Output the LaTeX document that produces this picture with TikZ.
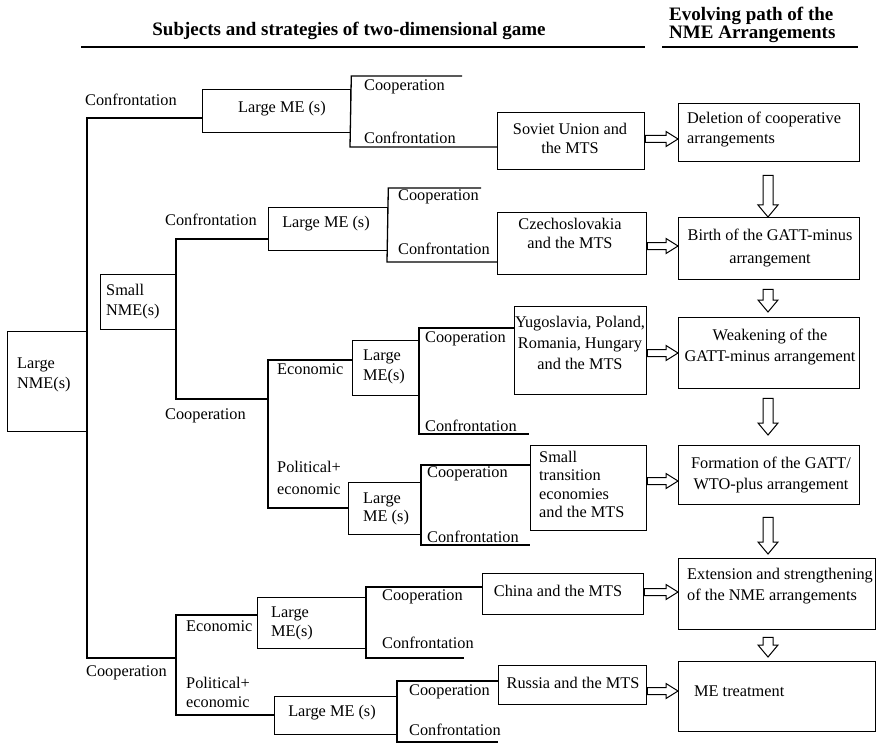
\documentclass[tikz,border=0pt]{standalone}
\usepackage{fontspec}
\setmainfont{Liberation Serif}
\usetikzlibrary{calc}

\tikzset{
  box/.style={draw, line width=1.3pt, inner sep=0pt, anchor=north west},
  tree/.style={line width=1.3pt},
  txt/.style={inner sep=0pt, font={\fontsize{16.3}{19.5}\selectfont}},
  lbl/.style={txt, anchor=west, align=left},
  hollow/.style={draw, line width=1pt, fill=white, line join=miter},
  head/.style={inner sep=0pt, font={\bfseries\fontsize{19}{16}\selectfont}},
  rule/.style={line width=1.8pt},
}

% hollow arrow from the east side of #1 to the west side of #2, at height #3
\newcommand{\harrow}[3]{%
  \draw[hollow] let \p1=(#1.east), \p2=(#2.west), \p3=(0,#3) in
    (\x1,\y3+3.5pt) -- (\x2-12pt,\y3+3.5pt) -- (\x2-12pt,\y3+7.5pt) -- (\x2,\y3)
    -- (\x2-12pt,\y3-7.5pt) -- (\x2-12pt,\y3-3.5pt) -- (\x1,\y3-3.5pt) -- cycle;}

% hollow arrow from below #1 down to above #2, gaps #3 and #4
\newcommand{\varrow}[4]{%
  \draw[hollow] let \p1=(#1.south west), \p2=(#2.north) in
    (\x1+85pt,\y1-#3pt) -- (\x1+85pt,\y2+#4pt+12pt) -- (\x1+80pt,\y2+#4pt+12pt)
    -- (\x1+90pt,\y2+#4pt) -- (\x1+100pt,\y2+#4pt+12pt) -- (\x1+95pt,\y2+#4pt+12pt)
    -- (\x1+95pt,\y1-#3pt) -- cycle;}

\begin{document}
\begin{tikzpicture}[x=1pt,y=-1pt]
\useasboundingbox (0,0) rectangle (877,743);

% ---------- headings ----------
\node[head, anchor=base] (h1) at (349,36) {Subjects and strategies of two-dimensional game};
\node[head, anchor=north west, align=left] (h2) at (669,7) {Evolving path of the\\NME Arrangements};
\draw[rule] (81,47) -- (645,47);
\draw[rule] (662,47) -- (858,47);

% ---------- boxes of the game tree ----------
\node[box, minimum width=80pt,  minimum height=100pt] (root)   at (7,331)   {};
\node[box, minimum width=76pt,  minimum height=55pt]  (smallB) at (100,274) {};
\node[box, minimum width=148pt, minimum height=43pt]  (lme1)   at (202,89)  {};
\node[box, minimum width=119pt, minimum height=43pt]  (lme2)   at (268,207) {};
\node[box, minimum width=67pt,  minimum height=55pt]  (lme3)   at (352,340) {};
\node[box, minimum width=73pt,  minimum height=52pt]  (lme4)   at (348,482) {};
\node[box, minimum width=109pt, minimum height=51pt]  (lme5)   at (257,597) {};
\node[box, minimum width=123pt, minimum height=38pt]  (lme6)   at (274,696) {};

\node[box, minimum width=147pt, minimum height=57pt]  (soviet) at (497,112) {};
\node[box, minimum width=149pt, minimum height=62pt]  (czech)  at (497,212) {};
\node[box, minimum width=132pt, minimum height=88pt]  (yugo)   at (514,306) {};
\node[box, minimum width=116pt, minimum height=85pt]  (smallT) at (530,445) {};
\node[box, minimum width=161pt, minimum height=41pt]  (china)  at (482,573) {};
\node[box, minimum width=148pt, minimum height=39pt]  (russia) at (498,665) {};

% ---------- boxes of the evolving path ----------
\node[box, minimum width=181pt, minimum height=58pt]  (del)    at (678,103) {};
\node[box, minimum width=181pt, minimum height=62pt]  (birth)  at (678,217) {};
\node[box, minimum width=181pt, minimum height=71pt]  (weak)   at (678,317) {};
\node[box, minimum width=181pt, minimum height=59pt]  (form)   at (678,445) {};
\node[box, minimum width=197pt, minimum height=71pt]  (ext)    at (678,558) {};
\node[box, minimum width=197pt, minimum height=70pt]  (met)    at (678,661) {};

% ---------- box texts ----------
\node[lbl, font={\fontsize{16.3}{20}\selectfont}] (rootT) at (17,375) {Large\\NME(s)};
\node[lbl] (smallBT) at (106,301.5) {Small\\NME(s)};
\node[txt] (lme1T) at (282,109) {Large ME (s)};
\node[txt] (lme2T) at (326,224) {Large ME (s)};
\node[lbl, font={\fontsize{16.3}{20}\selectfont}] (lme3T) at (363,367) {Large\\ME(s)};
\node[lbl, font={\fontsize{16.3}{18}\selectfont}] (lme4T) at (363,509) {Large\\ME (s)};
\node[lbl] (lme5T) at (271,623.5) {Large\\ME(s)};
\node[txt] (lme6T) at (332,713) {Large ME (s)};

\node[txt, align=center] (sovietT) at (570,138.5) {Soviet Union and\\the MTS};
\node[txt, align=center] (czechT)  at (570,233.5) {Czechoslovakia\\and the MTS};
\node[txt, align=center, font={\fontsize{16.3}{21}\selectfont}] (yugoT) at (580,343) {Yugoslavia, Poland,\\Romania, Hungary\\and the MTS};
\node[lbl, font={\fontsize{16.3}{18.3}\selectfont}] (smallTT) at (539,484.5) {Small\\transition\\economies\\and the MTS};
\node[txt] (chinaT)  at (558,591) {China and the MTS};
\node[txt] (russiaT) at (573,683) {Russia and the MTS};

\node[lbl, font={\fontsize{16.3}{20}\selectfont}] (delT) at (687,130) {Deletion of cooperative\\arrangements};
\node[txt, align=center, font={\fontsize{16.3}{23}\selectfont}] (birthT) at (770,248.5) {Birth of the GATT-minus\\arrangement};
\node[txt, align=center, font={\fontsize{16.3}{21}\selectfont}] (weakT) at (770,347.5) {Weakening of the\\GATT-minus arrangement};
\node[txt, align=center, font={\fontsize{16.3}{21}\selectfont}] (formT) at (771,475.5) {Formation of the GATT/\\WTO-plus arrangement};
\node[lbl, font={\fontsize{16.3}{21}\selectfont}] (extT) at (687,586.5) {Extension and strengthening\\of the NME arrangements};
\node[lbl] (metT) at (694,691) {ME treatment};

% ---------- tree connectors ----------
\coordinate (r1) at (87,118);  \coordinate (r2) at (87,658);
\coordinate (c1) at (176,615); \coordinate (c2) at (176,715);
\coordinate (s1) at (176,239); \coordinate (s2) at (176,399);
\coordinate (e1) at (268,360); \coordinate (e2) at (268,508);
\draw[tree] (r1 -| lme1.west) -- (r1) -- (r2) -- (r2 -| c1);
\draw[tree] (c1 -| lme5.west) -- (c1) -- (c2) -- (c2 -| lme6.west);
\draw[tree] (s1 -| lme2.west) -- (s1) -- (s2) -- (s2 -| e1);
\draw[tree] (e1 -| lme3.west) -- (e1) -- (e2) -- (e2 -| lme4.west);

% strategy brackets on the right of each Large ME box
\coordinate (k1a) at (462,76);  \coordinate (k1b) at (350,147);
\coordinate (k2a) at (481,188); \coordinate (k2b) at (387,262);
\coordinate (k3a) at (419,328); \coordinate (k3b) at (529,434);
\coordinate (k4a) at (421,465); \coordinate (k4b) at (530,545);
\coordinate (k5a) at (366,587); \coordinate (k5b) at (464,658);
\coordinate (k6a) at (397,681); \coordinate (k6b) at (498,742);
\draw[tree] (k1a) -- (k1a -| lme1.east) -- (k1b) -- (k1b -| soviet.west);
\draw[tree] (k2a) -- (k2a -| lme2.east) -- (k2b) -- (k2b -| czech.west);
\draw[tree] (k3a -| yugo.west) -- (k3a) -- (k3a |- k3b) -- (k3b);
\draw[tree] (k4a -| smallT.west) -- (k4a) -- (k4a |- k4b) -- (k4b);
\draw[tree] (k5a -| china.west) -- (k5a) -- (k5a |- k5b) -- (k5b);
\draw[tree] (k6a -| russia.west) -- (k6a) -- (k6a |- k6b) -- (k6b);

% ---------- strategy labels ----------
\node[lbl] (l1)  at (85,100)  {Confrontation};
\node[lbl] (l2)  at (364,87)  {Cooperation};
\node[lbl] (l3)  at (364,138) {Confrontation};
\node[lbl] (l4)  at (165,220) {Confrontation};
\node[lbl] (l5)  at (398,197) {Cooperation};
\node[lbl] (l6)  at (398,249) {Confrontation};
\node[lbl] (l7)  at (165,416) {Cooperation};
\node[lbl] (l8)  at (277,369) {Economic};
\node[lbl] (l9)  at (425,339) {Cooperation};
\node[lbl] (l10) at (425,426) {Confrontation};
\node[lbl, font={\fontsize{16.3}{22}\selectfont}] (l11) at (277,478) {Political+\\economic};
\node[lbl] (l12) at (427,474) {Cooperation};
\node[lbl] (l13) at (427,537) {Confrontation};
\node[lbl] (l14) at (86,673)  {Cooperation};
\node[lbl] (l15) at (186,626) {Economic};
\node[lbl] (l16) at (382,597) {Cooperation};
\node[lbl] (l17) at (382,643) {Confrontation};
\node[lbl] (l18) at (186,692.5) {Political+\\economic};
\node[lbl] (l19) at (409,692) {Cooperation};
\node[lbl] (l20) at (409,730) {Confrontation};

% ---------- hollow arrows ----------
\harrow{soviet}{del}{139}
\harrow{czech}{birth}{246}
\harrow{yugo}{weak}{353}
\harrow{smallT}{form}{481}
\harrow{china}{ext}{592}
\harrow{russia}{met}{691}

\varrow{del}{birth}{13}{0}
\varrow{birth}{weak}{9}{5}
\varrow{weak}{form}{9}{10}
\varrow{form}{ext}{12}{4}
\varrow{ext}{met}{7}{4}
\end{tikzpicture}
\end{document}
